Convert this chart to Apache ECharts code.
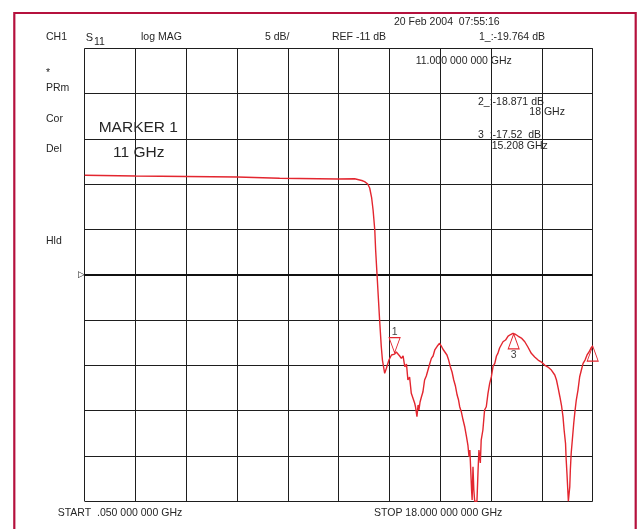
<!DOCTYPE html>
<html>
<head>
<meta charset="utf-8">
<script src="https://cdn.jsdelivr.net/npm/echarts/dist/echarts.min.js"></script>
<style>
html,body{margin:0;padding:0;background:#fff;}
#chart{width:641px;height:529px;}
</style>
</head>
<body>
<div id="chart"></div>
<script>
// Frequency axis (GHz) and S11 magnitude (dB)
const freqGHz = [0.05, 1.85, 3.64, 5.44, 6.94, 8.99, 9.59, 9.84, 9.94, 10.05,
  10.12, 10.19, 10.24, 10.30, 10.33, 10.38, 10.43, 10.47, 10.53, 10.57,
  10.65, 10.71, 10.80, 10.89, 11.00, 11.06, 11.12, 11.18, 11.24, 11.30,
  11.36, 11.42, 11.47, 11.53, 11.59, 11.65, 11.71, 11.74, 11.79, 11.83,
  11.86, 11.90, 11.95, 12.00, 12.06, 12.12, 12.18, 12.24, 12.30, 12.36,
  12.42, 12.51, 12.59, 12.65, 12.71, 12.77, 12.85, 12.91, 12.97, 13.03,
  13.09, 13.15, 13.21, 13.26, 13.30, 13.36, 13.42, 13.48, 13.54, 13.59,
  13.63, 13.66, 13.69, 13.72, 13.74, 13.77, 13.80, 13.83, 13.87, 13.91,
  13.95, 13.98, 14.03, 14.06, 14.12, 14.18, 14.24, 14.30, 14.36, 14.42,
  14.48, 14.54, 14.60, 14.65, 14.71, 14.83, 14.92, 15.01, 15.10, 15.18,
  15.23, 15.28, 15.36, 15.48, 15.60, 15.71, 15.83, 15.95, 16.07, 16.19,
  16.30, 16.42, 16.54, 16.66, 16.72, 16.78, 16.84, 16.90, 16.95, 16.99,
  17.04, 17.06, 17.09, 17.12, 17.14, 17.17, 17.19, 17.21, 17.24, 17.28,
  17.33, 17.37, 17.42, 17.48, 17.54, 17.60, 17.66, 17.73, 17.80, 17.87,
  17.95, 18.00];
const s11dB = [-0.02, -0.10, -0.15, -0.21, -0.35, -0.43, -0.40, -0.59, -0.72, -0.98,
  -1.42, -2.52, -3.85, -6.06, -8.26, -11.0, -13.76, -15.97, -18.94, -20.41,
  -21.87, -21.32, -20.41, -19.85, -19.76, -19.52, -19.67, -19.96, -20.22, -19.96,
  -21.15, -20.85, -22.61, -22.28, -24.08, -23.94, -25.18, -25.59, -26.66, -25.37,
  -25.92, -25.04, -24.46, -23.94, -22.61, -22.17, -21.51, -20.85, -20.22, -19.96,
  -19.30, -18.86, -18.56, -18.86, -19.22, -19.30, -19.85, -20.41, -21.15, -21.73,
  -22.61, -23.28, -24.27, -24.82, -25.56, -26.15, -27.03, -27.80, -28.87, -29.79,
  -31.08, -30.34, -32.55, -34.76, -35.86, -32.18, -34.76, -36, -36, -36,
  -32.55, -30.34, -31.77, -29.24, -28.13, -25.92, -25.56, -24.08, -22.98, -22.25,
  -21.07, -20.77, -19.96, -19.67, -19.08, -18.39, -18.20, -17.76, -17.59, -17.46,
  -17.52, -17.59, -17.76, -17.98, -18.39, -18.97, -19.67, -20.07, -20.41, -20.63,
  -20.96, -21.18, -21.51, -22.06, -22.61, -23.50, -24.46, -25.48, -26.66, -28.13,
  -29.60, -31.22, -32.91, -34.76, -36, -35.86, -34.39, -32.55, -30.70, -29.24,
  -27.39, -26.15, -24.82, -23.72, -22.25, -21.51, -20.77, -20.41, -19.85, -19.52,
  -19.02, -18.87];

// Markers
const markerNames = ['1', '2', '3'];
const markerFreqGHz = [11, 18, 15.208];
const markerDB = [-19.764, -18.871, -17.52];

// Scale settings
const refLevelDB = -11;
const scaleDBperDiv = 5;
const divisions = 10;
const startGHz = 0.05;
const stopGHz = 18;

const FONT = '"Liberation Sans", Arial, Helvetica, sans-serif';
const TXT = '#262626';

const traceData = freqGHz.map((f, i) => [f, s11dB[i]]);
const yTop = refLevelDB + scaleDBperDiv * divisions / 2;
const yBottom = refLevelDB - scaleDBperDiv * divisions / 2;

const markPts = markerNames.map((n, i) => {
  const down = n === '1';
  return {
    name: n,
    coord: [markerFreqGHz[i], markerDB[i]],
    symbol: 'triangle',
    symbolSize: [11, 15],
    symbolRotate: down ? 180 : 0,
    symbolOffset: down ? [0, -9] : [0, 7.5],
    label: {
      show: n !== '2',
      formatter: n,
      position: down ? 'top' : 'bottom',
      distance: 0,
      color: '#444',
      fontSize: 10.5,
      fontFamily: FONT
    }
  };
});

function txt(text, x, y, size) {
  return {
    type: 'text', x: x, y: y, silent: true, z: 10,
    style: { text: text, fill: TXT, font: (size || 10.5) + 'px ' + FONT, verticalAlign: 'middle', align: 'left' }
  };
}

const chart = echarts.init(document.getElementById('chart'), null, { renderer: 'canvas' });
chart.setOption({
  animation: false,
  backgroundColor: '#fff',
  grid: { left: 84.7, right: 48.3, top: 48.3, bottom: 27.7, containLabel: false },
  xAxis: [
    { type: 'value', min: 0, max: divisions, interval: 1, axisLine: { show: false }, axisTick: { show: false },
      axisLabel: { show: false }, splitLine: { show: true, lineStyle: { color: '#1e1e1e', width: 1 } } },
    { type: 'value', min: startGHz, max: stopGHz, show: false }
  ],
  yAxis: [
    { type: 'value', min: 0, max: divisions, interval: 1, axisLine: { show: false }, axisTick: { show: false },
      axisLabel: { show: false }, splitLine: { show: true, lineStyle: { color: '#1e1e1e', width: 1 } } },
    { type: 'value', min: yBottom, max: yTop, show: false }
  ],
  series: [{
    type: 'line',
    xAxisIndex: 1,
    yAxisIndex: 1,
    data: traceData,
    showSymbol: false,
    lineStyle: { color: '#e3262f', width: 1.4 },
    z: 5,
    markLine: {
      silent: true,
      symbol: 'none',
      lineStyle: { color: '#111', width: 2.2, type: 'solid' },
      label: { show: true, position: 'start', formatter: '\u25B7', color: '#111', fontSize: 9, distance: 0 },
      data: [{ yAxis: refLevelDB }]
    },
    markPoint: {
      silent: true,
      itemStyle: { color: 'rgba(0,0,0,0)', borderColor: '#e3262f', borderWidth: 1 },
      data: markPts
    }
  }],
  graphic: [
    { type: 'rect', silent: true, z: 0, shape: { x: 14.3, y: 13, width: 621.4, height: 540 },
      style: { fill: 'none', stroke: '#b5113d', lineWidth: 2.2 } },
    txt('20 Feb 2004  07:55:16', 394, 21.7),
    txt('CH1', 46, 37),
    { type: 'text', x: 85.7, y: 37, silent: true, z: 10,
      style: { text: '{s|S}{b|11}', verticalAlign: 'middle', align: 'left', fill: TXT,
        rich: { s: { fontSize: 11, fontFamily: FONT, fill: TXT, verticalAlign: 'bottom', lineHeight: 12 },
                b: { fontSize: 10.5, fontFamily: FONT, fill: TXT, padding: [6, 0, 0, 1], verticalAlign: 'top', lineHeight: 12 } } } },
    txt('log MAG', 141, 37),
    txt('5 dB/', 265, 37),
    txt('REF -11 dB', 332, 37),
    txt('1_:-19.764 dB', 479, 37),
    txt('11.000 000 000 GHz', 415.7, 61),
    txt('*', 46, 73),
    txt('PRm', 46, 88.3),
    txt('Cor', 46, 119),
    txt('Del', 46, 149.3),
    txt('Hld', 46, 241),
    txt('MARKER 1', 98.7, 127.3, 15.5),
    txt('11 GHz', 113, 152.7, 15.5),
    txt('2_:-18.871 dB', 478, 101.7),
    txt('18 GHz', 529.3, 112.3),
    txt('3_:-17.52  dB', 478, 135),
    txt('15.208 GHz', 491.7, 145.7),
    txt('START  .050 000 000 GHz', 57.7, 513.3),
    txt('STOP 18.000 000 000 GHz', 374, 513.3)
  ]
});
</script>
</body>
</html>
